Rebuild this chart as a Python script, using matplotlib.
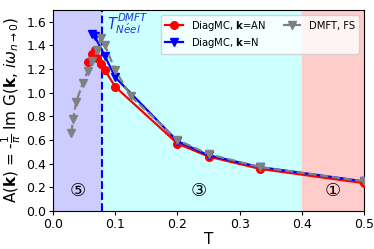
import matplotlib
matplotlib.use("Agg")
import matplotlib.pyplot as plt

plt.rcParams['font.family'] = ['DejaVu Sans', 'Noto Sans CJK SC']

# DiagMC, k = AN
T_an = [0.0556, 0.0625, 0.0667, 0.0714, 0.0769, 0.0833, 0.1, 0.2, 0.25, 0.3333, 0.5]
A_an = [1.26, 1.33, 1.36, 1.29, 1.24, 1.19, 1.05, 0.57, 0.46, 0.355, 0.235]

# DiagMC, k = N
T_n = [0.0625, 0.0667, 0.0833, 0.1, 0.2, 0.25, 0.3333, 0.5]
A_n = [1.50, 1.48, 1.31, 1.13, 0.59, 0.47, 0.37, 0.25]

# DMFT, FS
T_fs = [0.0294, 0.0323, 0.0370, 0.0476, 0.0556, 0.0625, 0.0714, 0.0769, 0.0833, 0.1, 0.125, 0.2, 0.25, 0.3333, 0.5]
A_fs = [0.66, 0.78, 0.92, 1.08, 1.18, 1.27, 1.36, 1.46, 1.40, 1.19, 0.97, 0.60, 0.48, 0.37, 0.25]

T_neel = 0.079
regions = [(0.0, T_neel, '#ccccff', '⑤', 0.040),
           (T_neel, 0.4, '#ccffff', '③', 0.235),
           (0.4, 0.5, '#ffcccc', '①', 0.45)]

fig = plt.figure(figsize=(3.74, 2.49), dpi=100)
ax = fig.add_axes([0.142, 0.153, 0.831, 0.807])

for x0, x1, c, lab, xt in regions:
    ax.axvspan(x0, x1, color=c, zorder=0)
    ax.text(xt, 0.17, lab, ha='center', va='center', fontsize=13)

ax.axvline(T_neel, color='blue', ls='--', lw=1.5, zorder=1)
ax.text(0.087, 1.585, r'$T^{DMFT}_{N\'eel}$', color='#2233dd', fontsize=10.5, ha='left', va='center')

ax.plot(T_an, A_an, '-o', color='red', ms=5.5, lw=1.6, label=r'DiagMC, $\mathbf{k}$=AN', zorder=3)
ax.plot(T_n, A_n, '-v', color='blue', ms=5.5, lw=1.6, label=r'DiagMC, $\mathbf{k}$=N', zorder=3)
ax.plot(T_fs, A_fs, '--v', color='gray', ms=5.5, lw=1.6, label='DMFT, FS', zorder=4)

ax.set_xlim(0, 0.5)
ax.set_ylim(0, 1.7)
ax.set_xticks([0.0, 0.1, 0.2, 0.3, 0.4, 0.5])
ax.set_yticks([0.0, 0.2, 0.4, 0.6, 0.8, 1.0, 1.2, 1.4, 1.6])
ax.tick_params(labelsize=9, length=3, pad=2)
ax.set_xlabel('T', fontsize=11, labelpad=1)
ax.set_ylabel(r'A($\mathbf{k}$) = -$\frac{1}{\pi}$ Im G($\mathbf{k}$, $i\omega_{n\rightarrow 0}$)',
              fontsize=11, labelpad=2)
ax.legend(loc='upper right', ncol=2, fontsize=7.2, framealpha=0.8,
          handlelength=1.8, columnspacing=1.6, labelspacing=0.3, borderaxespad=0.5)

fig.savefig('out.png', dpi=100)
